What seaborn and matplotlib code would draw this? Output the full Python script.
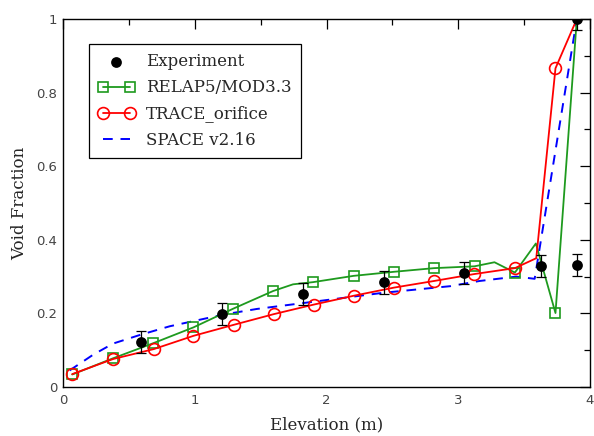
import numpy as np
import pandas as pd
import matplotlib
matplotlib.use("Agg")
import matplotlib.pyplot as plt
from matplotlib.ticker import MultipleLocator, FuncFormatter
import seaborn as sns

# ---- data ----
exp_x = [0.595, 1.21, 1.822, 2.435, 3.045, 3.625, 3.90, 3.90]
exp_y = [0.122, 0.199, 0.252, 0.284, 0.311, 0.329, 1.0, 0.331]
exp_err = [0.03, 0.03, 0.03, 0.03, 0.03, 0.03, 0.03, 0.03]

relap_x = [0.07, 0.38, 0.685, 0.99, 1.293, 1.596, 1.746, 1.899, 2.205, 2.51,
           2.817, 3.124, 3.275, 3.43, 3.589, 3.738, 3.90]
relap_y = [0.034, 0.078, 0.119, 0.162, 0.213, 0.261, 0.279, 0.285, 0.302, 0.313,
           0.323, 0.328, 0.339, 0.311, 0.39, 0.201, 1.0]
relap_marked = [0, 1, 2, 3, 4, 5, 7, 8, 9, 10, 11, 13, 15]

trace_x = [0.07, 0.38, 0.689, 0.99, 1.296, 1.6, 1.904, 2.207, 2.511, 2.815,
           3.123, 3.43, 3.592, 3.738, 3.90]
trace_y = [0.035, 0.076, 0.103, 0.139, 0.169, 0.198, 0.224, 0.248, 0.27, 0.288,
           0.307, 0.323, 0.35, 0.866, 1.0]
trace_marked = [0, 1, 2, 3, 4, 5, 6, 7, 8, 9, 10, 11, 13]

space_x = [0.05, 0.23, 0.38, 0.58, 0.81, 0.99, 1.22, 1.47, 1.93, 2.43, 2.94,
           3.16, 3.44, 3.58, 3.90]
space_y = [0.045, 0.088, 0.118, 0.141, 0.165, 0.179, 0.197, 0.212, 0.233, 0.256,
           0.274, 0.288, 0.300, 0.294, 1.0]

labels = ["Experiment", "RELAP5/MOD3.3", "TRACE_orifice", "SPACE v2.16"]
x_ticks = [0, 1, 2, 3, 4]
y_ticks = [0, 0.2, 0.4, 0.6, 0.8, 1.0]

# ---- style ----
sns.set_style("white")
plt.rcParams["font.family"] = ["DejaVu Serif"]

fig, ax = plt.subplots(figsize=(5.94, 4.36), dpi=100)
fig.subplots_adjust(left=63/594, right=590/594, bottom=1-387/436, top=1-19/436)

green = "#1e9a1e"
sns.lineplot(x=relap_x, y=relap_y, ax=ax, sort=False, estimator=None,
             color=green, lw=1.3, marker="s", markevery=relap_marked,
             markersize=7, markerfacecolor="none", markeredgecolor=green,
             markeredgewidth=1.2, label=labels[1], zorder=3)
sns.lineplot(x=trace_x, y=trace_y, ax=ax, sort=False, estimator=None,
             color="#ff0000", lw=1.3, marker="o", markevery=trace_marked,
             markersize=8.5, markerfacecolor="none", markeredgecolor="#ff0000",
             markeredgewidth=1.2, label=labels[2], zorder=3)
sns.lineplot(x=space_x, y=space_y, ax=ax, sort=False, estimator=None,
             color="#0000ff", lw=1.4, label=labels[3], zorder=2)
ax.lines[-1].set_linestyle((0, (5, 4)))

ax.errorbar(exp_x, exp_y, yerr=exp_err, fmt="none", ecolor="black",
            elinewidth=0.9, capsize=3.6, capthick=0.9, zorder=4)
sns.scatterplot(x=exp_x, y=exp_y, ax=ax, color="black", s=60,
                edgecolor="black", linewidth=0, label=labels[0], zorder=5)

ax.set_xlim(0, 4)
ax.set_ylim(0, 1)
ax.set_xticks(x_ticks)
ax.set_yticks(y_ticks)
ax.xaxis.set_minor_locator(MultipleLocator(0.5))
ax.yaxis.set_minor_locator(MultipleLocator(0.1))
ax.yaxis.set_major_formatter(FuncFormatter(lambda v, p: "%g" % v))
ax.xaxis.set_major_formatter(FuncFormatter(lambda v, p: "%g" % v))
ax.tick_params(which="both", direction="in", top=True, right=True,
               color="black", width=0.9)
ax.tick_params(which="major", length=7, pad=4, labelsize=9.5,
               labelcolor="#444444")
ax.tick_params(which="minor", length=4)
for lab in ax.get_xticklabels() + ax.get_yticklabels():
    lab.set_family("DejaVu Sans")
ax.tick_params(axis="x", pad=5)
for s in ax.spines.values():
    s.set_color("black")
    s.set_linewidth(1.0)

ax.set_xlabel("Elevation (m)", fontsize=12, labelpad=7)
ax.set_ylabel("Void Fraction", fontsize=12, labelpad=6)

handles, labs = ax.get_legend_handles_labels()
order = [labs.index(l) for l in labels]
leg = ax.legend([handles[i] for i in order], [labs[i] for i in order],
                loc="upper left", bbox_to_anchor=(0.049, 0.932),
                borderaxespad=0, frameon=True, fancybox=False, fontsize=12,
                numpoints=2, handlelength=2.2, handletextpad=0.7,
                labelspacing=0.55, borderpad=0.55)
leg.get_frame().set_edgecolor("black")
leg.get_frame().set_linewidth(0.9)
leg.get_frame().set_alpha(1)

fig.savefig("out.png", dpi=100)
